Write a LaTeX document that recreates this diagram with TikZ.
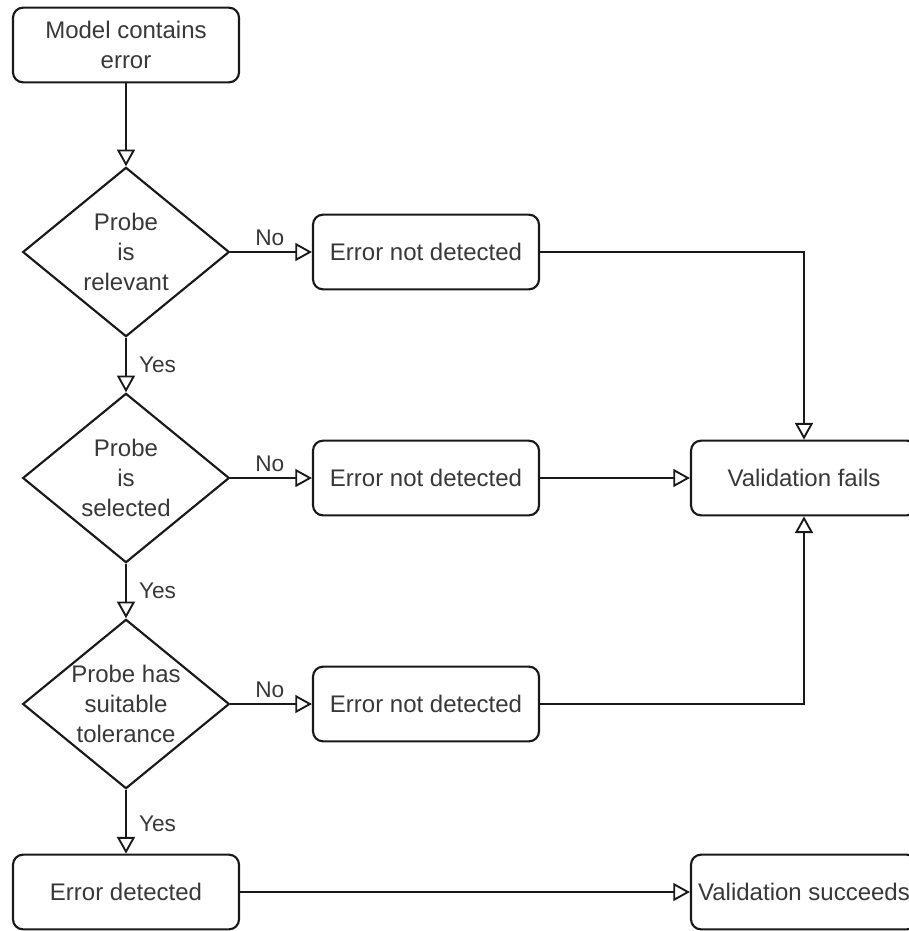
\documentclass[tikz,border=0pt]{standalone}
\usepackage{fontspec}
\setmainfont{Liberation Sans}
\usetikzlibrary{shapes.geometric,arrows.meta}
\begin{document}
\begin{tikzpicture}[x=0.75pt,y=-0.75pt,
  font=\fontsize{18}{22.5}\selectfont,
  every node/.style={text=black!78},
  boxnode/.style={draw=black!90, line width=1.6pt, rounded corners=7.5pt,
    minimum width=169.5pt, minimum height=56pt, align=center, inner sep=0pt},
  decision/.style={draw=black!90, line width=1.6pt, shape=diamond, inner sep=0pt,
    minimum width=155pt, minimum height=127pt,
    label={[align=center, inner sep=0pt]center:#1}},
  flow/.style={line width=1.6pt, draw=black!90,
    -{Triangle[open, length=12.5pt, width=13.5pt, line width=1.4pt]}},
  lbl/.style={font=\fontsize{17}{20}\selectfont, inner sep=0pt}]
\path[use as bounding box, clip] (0,0) rectangle (909,931);

% main column
\node[boxnode] (start) at (126,45) {Model contains\\error};
\node[decision={Probe\\is\\relevant}] (d1) at (126,252) {};
\node[decision={Probe\\is\\selected}] (d2) at (126,478) {};
\node[decision={Probe has\\suitable\\tolerance}] (d3) at (126,704) {};
\node[boxnode] (det) at (126,892) {Error detected};

% rejection branch
\node[boxnode] (n1) at (426,252) {Error not detected};
\node[boxnode] (n2) at (426,478) {Error not detected};
\node[boxnode] (n3) at (426,704) {Error not detected};

% outcomes
\node[boxnode] (fail) at (804,478) {Validation fails};
\node[boxnode] (succ) at (804,892) {Validation succeeds};

% connectors
\draw[flow] (start) -- (d1);
\draw[flow] (d1) -- node[lbl, right, xshift=9pt] {Yes} (d2);
\draw[flow] (d2) -- node[lbl, right, xshift=9pt] {Yes} (d3);
\draw[flow] (d3) -- node[lbl, right, xshift=9pt, yshift=-1.5pt] {Yes} (det);

\draw[flow] (d1.east) -- node[lbl, above, pos=0.5, xshift=-1pt, yshift=4pt] {No} (n1.west);
\draw[flow] (d2.east) -- node[lbl, above, pos=0.5, xshift=-1pt, yshift=4pt] {No} (n2.west);
\draw[flow] (d3.east) -- node[lbl, above, pos=0.5, xshift=-1pt, yshift=4pt] {No} (n3.west);

\draw[flow] (n1.east) -| (fail.north);
\draw[flow] (n2.east) -- (fail.west);
\draw[flow] (n3.east) -| (fail.south);
\draw[flow] (det.east) -- (succ.west);
\end{tikzpicture}
\end{document}
